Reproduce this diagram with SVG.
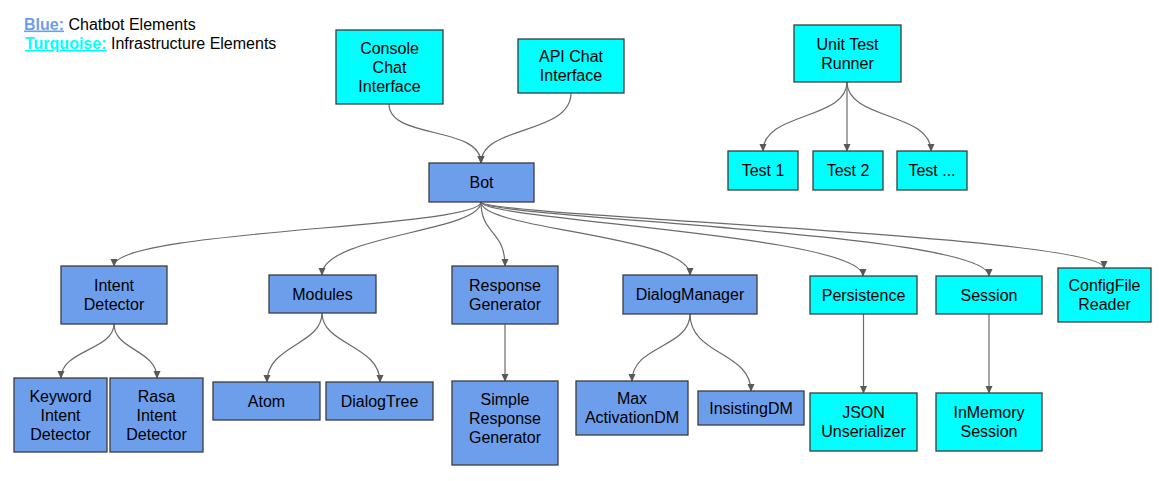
<svg xmlns="http://www.w3.org/2000/svg" width="1159" height="481" viewBox="0 0 1159 481">
<style>
.b{fill:#6d9eeb;stroke:#3c3c3c;stroke-width:1.3}
.t{fill:#00ffff;stroke:#3c3c3c;stroke-width:1.3}
text{font-family:"Liberation Sans",Arial,sans-serif;font-size:16px;fill:#000}
.n text{text-anchor:middle}
.c path{fill:none;stroke:#6a6a6a;stroke-width:1.2;marker-end:url(#ah)}
</style>
<defs>
<marker id="ah" viewBox="0 0 10 10" refX="9" refY="5" markerWidth="8" markerHeight="8" orient="auto" markerUnits="userSpaceOnUse">
<path d="M0,0.5 L10,5 L0,9.5 z" fill="#595959"/>
</marker>
</defs>
<g id="legend">
<text x="24" y="29.5" font-size="16.2"><tspan fill="#6d9eeb" font-weight="bold" text-decoration="underline">Blue:</tspan> Chatbot Elements</text>
<text x="25" y="49" font-size="16.2"><tspan fill="#00ffff" font-weight="bold" text-decoration="underline">Turquoise:</tspan> Infrastructure Elements</text>
</g>
<g class="c" id="connectors">
<path d="M389,104 C389,140 481,125 481,163"/>
<path d="M571,93 C571,135 481,125 481,163"/>
<path d="M847,82 C847,120 763,112 763,151"/>
<path d="M847,82 L847,151"/>
<path d="M847,82 C847,120 931,112 931,151"/>
<path d="M481,202 C481,228 114,230 114,266"/>
<path d="M481,202 C481,232 322,235 322,275"/>
<path d="M481,202 C481,235 505,230 505,266"/>
<path d="M481,202 C481,230 690,235 690,275"/>
<path d="M481,202 C481,220 863,235 863,276"/>
<path d="M481,202 C481,218 989,232 989,276"/>
<path d="M481,202 C481,216 1104,236 1104,268"/>
<path d="M114,324 C114,350 61,350 61,378"/>
<path d="M114,324 C114,350 157,350 157,378"/>
<path d="M322,313 C322,345 267,345 267,382"/>
<path d="M322,313 C322,345 380,345 380,382"/>
<path d="M505,324 L505,381"/>
<path d="M690,314 C690,348 632,345 632,381"/>
<path d="M690,314 C690,355 751,352 751,391"/>
<path d="M863.5,314 L863.5,393"/>
<path d="M989,314 L989,393"/>
</g>
<g class="n" id="console"><rect class="t" x="336" y="30" width="107" height="74"/><text x="389.5" y="53.6">Console</text><text x="389.5" y="72.6">Chat</text><text x="389.5" y="91.6">Interface</text></g>
<g class="n" id="api"><rect class="t" x="518" y="39" width="106" height="54"/><text x="571" y="62">API Chat</text><text x="571" y="81">Interface</text></g>
<g class="n" id="bot"><rect class="b" x="429" y="163" width="105" height="39"/><text x="481.5" y="188">Bot</text></g>
<g class="n" id="utr"><rect class="t" x="794" y="25" width="107" height="57"/><text x="847.5" y="49.5">Unit Test</text><text x="847.5" y="68.5">Runner</text></g>
<g class="n" id="test1"><rect class="t" x="728" y="151" width="70" height="39"/><text x="763" y="176">Test 1</text></g>
<g class="n" id="test2"><rect class="t" x="813" y="151" width="70" height="39"/><text x="848" y="176">Test 2</text></g>
<g class="n" id="test3"><rect class="t" x="897" y="151" width="70" height="39"/><text x="932" y="176">Test ...</text></g>
<g class="n" id="intent"><rect class="b" x="61" y="266" width="106" height="58"/><text x="114" y="291">Intent</text><text x="114" y="310">Detector</text></g>
<g class="n" id="modules"><rect class="b" x="269" y="275" width="107" height="38"/><text x="322.5" y="299.6">Modules</text></g>
<g class="n" id="respgen"><rect class="b" x="452" y="266" width="106" height="58"/><text x="505" y="291">Response</text><text x="505" y="310">Generator</text></g>
<g class="n" id="dm"><rect class="b" x="623" y="275" width="134" height="39"/><text x="690" y="300">DialogManager</text></g>
<g class="n" id="persistence"><rect class="t" x="810" y="276" width="107" height="38"/><text x="863.5" y="300.6">Persistence</text></g>
<g class="n" id="session"><rect class="t" x="936" y="276" width="106" height="38"/><text x="989" y="300.6">Session</text></g>
<g class="n" id="config"><rect class="t" x="1058" y="268" width="93" height="54"/><text x="1104.5" y="291">ConfigFile</text><text x="1104.5" y="310">Reader</text></g>
<g class="n" id="keyword"><rect class="b" x="14" y="378" width="93" height="74"/><text x="60.5" y="401.6">Keyword</text><text x="60.5" y="420.6">Intent</text><text x="60.5" y="439.6">Detector</text></g>
<g class="n" id="rasa"><rect class="b" x="110" y="378" width="93" height="74"/><text x="156.5" y="401.6">Rasa</text><text x="156.5" y="420.6">Intent</text><text x="156.5" y="439.6">Detector</text></g>
<g class="n" id="atom"><rect class="b" x="213" y="382" width="107" height="38"/><text x="266.5" y="406.6">Atom</text></g>
<g class="n" id="dialogtree"><rect class="b" x="326" y="382" width="107" height="38"/><text x="379.5" y="406.6">DialogTree</text></g>
<g class="n" id="simple"><rect class="b" x="452" y="381" width="106" height="84"/><text x="505" y="404.6">Simple</text><text x="505" y="423.6">Response</text><text x="505" y="442.6">Generator</text></g>
<g class="n" id="maxact"><rect class="b" x="576" y="381" width="112" height="54"/><text x="632" y="404">Max</text><text x="632" y="423">ActivationDM</text></g>
<g class="n" id="insisting"><rect class="b" x="698" y="391" width="106" height="34"/><text x="751" y="414">InsistingDM</text></g>
<g class="n" id="json"><rect class="t" x="810" y="393" width="107" height="58"/><text x="863.5" y="418">JSON</text><text x="863.5" y="437">Unserializer</text></g>
<g class="n" id="inmemory"><rect class="t" x="936" y="393" width="106" height="58"/><text x="989" y="418">InMemory</text><text x="989" y="437">Session</text></g>
</svg>
